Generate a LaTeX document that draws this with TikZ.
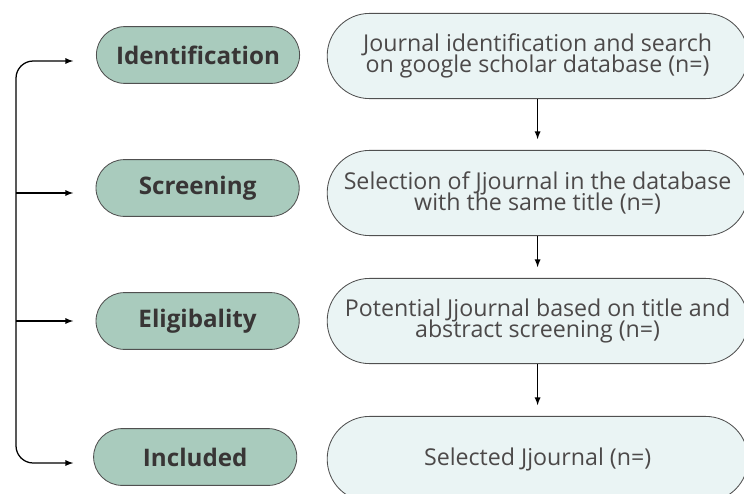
\documentclass[tikz,border=0pt]{standalone}
\usepackage{fontspec}
\setmainfont{Open Sans}
\usetikzlibrary{arrows,shapes,positioning,calc}
\usepackage{xcolor}
\definecolor{sage}{HTML}{A9CBBD}
\definecolor{mist}{HTML}{EAF4F4}
\definecolor{ink}{HTML}{383535}
\definecolor{rim}{HTML}{505050}
\newcommand{\tightlines}{\lineskiplimit=-20pt\relax}

\begin{document}
\begin{tikzpicture}[
    stage/.style={draw=rim, line width=0.6pt, fill=sage, rounded corners=0.71cm,
        minimum width=5.08cm, minimum height=1.42cm, text=ink,
        font=\fontsize{17.2}{18}\selectfont\bfseries},
    record/.style={draw=rim, line width=0.6pt, fill=mist, rounded corners=1.06cm,
        minimum width=10.52cm, minimum height=2.13cm, text=ink!90, align=center,
        font=\fontsize{16.5}{14.6}\selectfont\tightlines},
    flow/.style={-latex, line width=0.9pt, shorten >=0.27cm}
]
    \useasboundingbox (0,0) rectangle (18.6,-12.325);

    % Stage labels on the left
    \node[stage] (ident) at (4.95,-1.375) {Identification};
    \node[stage] (screen) at (4.94,-4.7) {Screening};
    \node[stage] (elig) at (4.94,-8.025) {Eligibality};
    \node[stage] (incl) at (4.88,-11.425) {Included};

    % Records on the right
    \node[record] (search) at (13.44,-1.4) {Journal identification and search\\on google scholar database (n=)};
    \node[record] (title) at (13.44,-4.825) {Selection of Jjournal in the database\\with the same title (n=)};
    \node[record] (abstract) at (13.44,-8.025) {Potential Jjournal based on title and\\abstract screening (n=)};
    \node[record] (chosen) at (13.44,-11.475) {Selected Jjournal (n=)};

    \draw[flow] (search) -- (title);
    \draw[flow] (title) -- (abstract);
    \draw[flow] (abstract) -- (chosen);

    % Bracket
    \coordinate (tip1) at (1.83,-1.525);
    \coordinate (tip2) at (1.83,-4.825);
    \coordinate (tip3) at (1.83,-8.025);
    \coordinate (tip4) at (1.83,-11.575);
    \coordinate (rail2) at (0.4,-4.825);
    \coordinate (rail3) at (0.4,-8.025);
    \draw[latex-latex, line width=0.9pt, rounded corners=0.43cm] (tip1) -| (rail2) |- (tip4);
    \draw[-latex, line width=0.9pt] (rail2) -- (tip2);
    \draw[-latex, line width=0.9pt] (rail3) -- (tip3);
\end{tikzpicture}
\end{document}
